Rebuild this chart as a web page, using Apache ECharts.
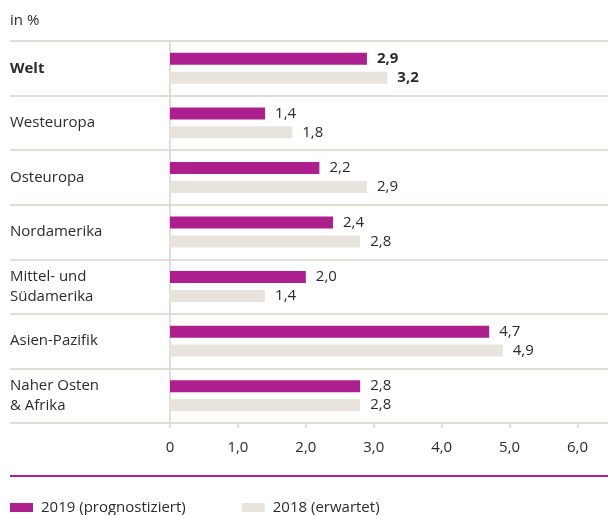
<!DOCTYPE html>
<html>
<head>
<meta charset="utf-8">
<title>Wachstum</title>
<style>html,body{margin:0;padding:0;background:#fff;}</style>
</head>
<body>
<div id="main" style="width:608px;height:515px;"></div>
<script src="https://cdn.jsdelivr.net/npm/echarts@6/dist/echarts.min.js"></script>
<script>
// Regionen (oben nach unten)
var regionen = ['Welt', 'Westeuropa', 'Osteuropa', 'Nordamerika', 'Mittel- und\nSüdamerika', 'Asien-Pazifik', 'Naher Osten\n& Afrika'];
// Werte in %
var werte2019 = [2.9, 1.4, 2.2, 2.4, 2.0, 4.7, 2.8];
var werte2018 = [3.2, 1.8, 2.9, 2.8, 1.4, 4.9, 2.8];
var xTicks = [0, 1, 2, 3, 4, 5, 6];

var MAGENTA = '#ac1f8d';
var BEIGE = '#e8e4dd';
var LINIE = '#d9d3c8';
var TEXT = '#2b2b2b';
var FONT = 'Open Sans';
var FS = 15;

function komma(v) {
	return v.toFixed(1).replace('.', ',');
}

var myChart = echarts.init(document.getElementById('main'));

var labelOpt = {
	show: true,
	position: 'right',
	distance: 10,
	fontFamily: FONT,
	fontSize: FS,
	color: TEXT,
	formatter: function (p) {
		return p.dataIndex === 0 ? '{b|' + komma(p.value) + '}' : komma(p.value);
	},
	rich: { b: { fontFamily: FONT, fontSize: FS, fontWeight: 'bold', color: TEXT } }
};

myChart.setOption({
	animation: false,
	textStyle: { fontFamily: FONT },
	title: {
		text: 'in %',
		left: 10, top: 13,
		padding: 0,
		textStyle: { fontFamily: FONT, fontSize: FS, fontWeight: 'normal', color: TEXT }
	},
	legend: {
		left: 10, top: 500,
		padding: 0,
		icon: 'rect',
		itemWidth: 23, itemHeight: 9,
		itemGap: 56,
		textStyle: { fontFamily: FONT, fontSize: FS, color: TEXT, padding: [0, 0, 0, 3] },
		data: ['2019 (prognostiziert)', '2018 (erwartet)']
	},
	grid: [
		{ left: 170, right: 30.5, top: 41, bottom: 92 },
		// nur für die durchgehenden Trennlinien
		{ left: 10, right: 0, top: 41, bottom: 92 }
	],
	xAxis: [{
		gridIndex: 0,
		type: 'value',
		min: 0, max: 6, interval: 1,
		axisLine: { show: false },
		axisTick: { show: true, length: 5, lineStyle: { color: LINIE, width: 1.5 } },
		splitLine: { show: false },
		axisLabel: {
			margin: 17,
			fontFamily: FONT, fontSize: FS, color: TEXT,
			formatter: function (v) { return v === 0 ? '0' : komma(v); }
		}
	}, {
		gridIndex: 1,
		type: 'value',
		show: false
	}],
	yAxis: [{
		gridIndex: 0,
		type: 'category',
		inverse: true,
		data: regionen,
		axisLine: { show: true, lineStyle: { color: LINIE, width: 1.5 } },
		axisTick: { show: false },
		splitLine: { show: false },
		axisLabel: {
			align: 'left',
			margin: 160,
			fontFamily: FONT, fontSize: FS, color: TEXT,
			lineHeight: 20,
			formatter: function (v) { return v === 'Welt' ? '{b|Welt}' : v; },
			rich: { b: { fontFamily: FONT, fontSize: FS, fontWeight: 'bold', color: TEXT } }
		}
	}, {
		gridIndex: 1,
		type: 'category',
		inverse: true,
		data: regionen,
		axisLine: { show: false },
		axisTick: { show: false },
		axisLabel: { show: false },
		splitLine: { show: true, lineStyle: { color: LINIE, width: 1.5 } }
	}],
	graphic: [{
		type: 'line',
		shape: { x1: 10, y1: 476, x2: 608, y2: 476 },
		style: { stroke: MAGENTA, lineWidth: 2 }
	}],
	series: [{
		name: '2019 (prognostiziert)',
		type: 'bar',
		xAxisIndex: 0, yAxisIndex: 0,
		data: werte2019,
		barWidth: 12,
		barGap: '58%',
		itemStyle: { color: MAGENTA },
		label: labelOpt
	}, {
		name: '2018 (erwartet)',
		type: 'bar',
		xAxisIndex: 0, yAxisIndex: 0,
		data: werte2018,
		barWidth: 12,
		barGap: '58%',
		itemStyle: { color: BEIGE },
		label: labelOpt
	}]
});
</script>
</body>
</html>
